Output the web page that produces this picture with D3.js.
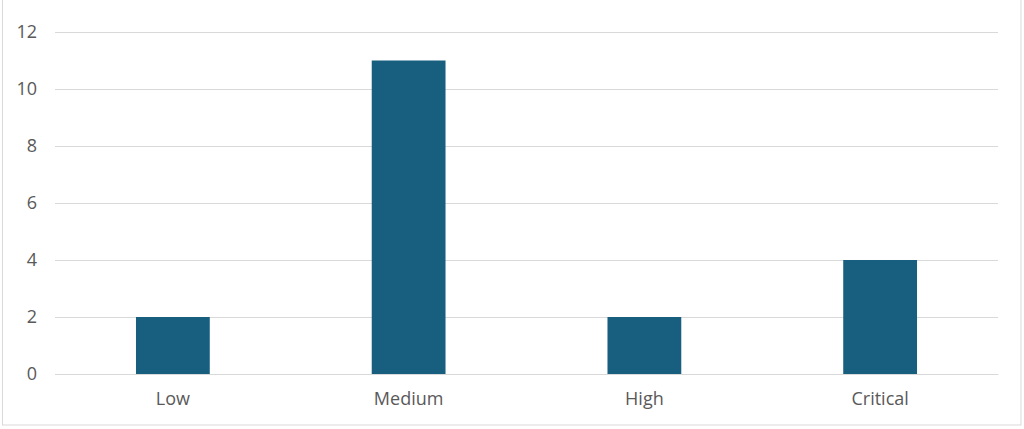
<!DOCTYPE html>
<html><head><meta charset="utf-8">
<script src="https://cdn.jsdelivr.net/npm/d3@7"></script>
<style>html,body{margin:0;padding:0;background:#fff;}</style>
</head><body>
<svg id="c" width="1024" height="429"></svg>
<script>
const categories = ["Low", "Medium", "High", "Critical"];
const values = [2, 11, 2, 4];
const yTicks = [0, 2, 4, 6, 8, 10, 12];

const svg = d3.select("#c");
const m = {left: 55, right: 998, top: 32, bottom: 374};
const font = "'Open Sans', sans-serif";
svg.append("rect").attr("x", 2.5).attr("y", -1).attr("width", 1018.5).attr("height", 426)
  .attr("fill", "#fff").attr("stroke", "#d9d9d9").attr("stroke-width", 1);

const x = d3.scaleBand().domain(categories).range([m.left, m.right]).paddingInner(0.687).paddingOuter(0.3435);
const y = d3.scaleLinear().domain([0, 12]).range([m.bottom, m.top]);

const gy = svg.append("g").attr("transform", `translate(${m.left},0)`)
  .call(d3.axisLeft(y).tickValues(yTicks).tickSize(-(m.right - m.left)).tickPadding(18).tickFormat(d3.format("d")));
gy.select(".domain").remove();
gy.selectAll(".tick line").attr("stroke", "#d9d9d9").attr("stroke-width", 1);
gy.selectAll(".tick text").attr("fill", "#595959").attr("font-size", 18).attr("font-family", font);

svg.append("g").selectAll("rect").data(values).join("rect")
  .attr("x", (d, i) => x(categories[i]))
  .attr("width", x.bandwidth())
  .attr("y", d => y(d))
  .attr("height", d => y(0) - y(d))
  .attr("fill", "#175E7F");

const gx = svg.append("g").attr("transform", `translate(0,${m.bottom})`)
  .call(d3.axisBottom(x).tickSize(0).tickPadding(18));
gx.select(".domain").attr("stroke", "#d9d9d9");
gx.selectAll(".tick text").attr("fill", "#595959").attr("font-size", 18).attr("font-family", font);
</script>
</body></html>
